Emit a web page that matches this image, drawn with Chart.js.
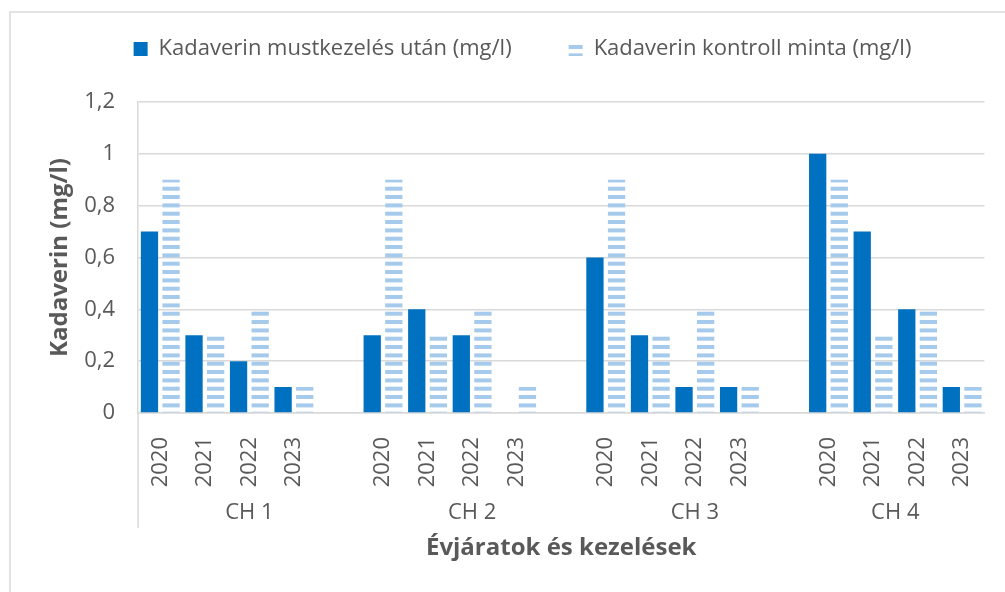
<!DOCTYPE html>
<html>
<head>
<meta charset="utf-8">
<title>Kadaverin</title>
<script src="https://cdn.jsdelivr.net/npm/chart.js@4.4.1/dist/chart.umd.min.js"></script>
<style>
  body { margin: 0; background: #fff; overflow: hidden; }
  #frame { position: absolute; left: 9px; top: 11px; width: 1100px; height: 700px; border: 2px solid #e3e3e3; }
  #wrap { position: absolute; left: 0; top: 0; width: 1005px; height: 592px; }
</style>
</head>
<body>
<div id="frame"></div>
<div id="wrap"><canvas id="myChart"></canvas></div>
<script>
'use strict';

var groups = ['CH 1', 'CH 2', 'CH 3', 'CH 4'];
var years = ['2020', '2021', '2022', '2023'];
// mg/l, one row per treatment, one value per year
var mustkezeles = [
  [0.7, 0.3, 0.2, 0.1],
  [0.3, 0.4, 0.3, 0],
  [0.6, 0.3, 0.1, 0.1],
  [1.0, 0.7, 0.4, 0.1]
];
var kontroll = [
  [0.9, 0.3, 0.4, 0.1],
  [0.9, 0.3, 0.4, 0.1],
  [0.9, 0.3, 0.4, 0.1],
  [0.9, 0.3, 0.4, 0.1]
];
var yTickLabels = ['0', '0,2', '0,4', '0,6', '0,8', '1', '1,2'];

var textColor = '#595959';
var gridColor = '#d9d9d9';
Chart.defaults.font.family = '"Open Sans", sans-serif';

// flatten the groups, with an empty slot between them
var labels = [];
var solid = [];
var striped = [];
var groupCenters = [];
var pos = 0;
groups.forEach(function (g, gi) {
  var n = years.length;
  years.forEach(function (y, yi) {
    labels.push(y);
    solid.push(mustkezeles[gi][yi]);
    striped.push(kontroll[gi][yi]);
  });
  if (gi < groups.length - 1) {
    labels.push('');
    solid.push(null);
    striped.push(null);
    n++;
  }
  groupCenters.push(pos + n / 2);
  pos += n;
});

// wide horizontal stripes
function stripes(color) {
  var c = document.createElement('canvas');
  c.width = 10;
  c.height = 25;
  var cx = c.getContext('2d');
  cx.fillStyle = color;
  [3.4, 11.7, 20.0].forEach(function (y) {
    cx.fillRect(0, y, 10, 4);
  });
  return cx.createPattern(c, 'repeat');
}

// more room between the legend and the plot
var legendSpace = {
  id: 'legendSpace',
  beforeInit: function (chart) {
    var fit = chart.legend.fit;
    chart.legend.fit = function () {
      fit.call(this);
      this.height += 32;
    };
  }
};

// left edge line running down through the category labels
var axisEdge = {
  id: 'axisEdge',
  afterDraw: function (chart) {
    var c = chart.ctx;
    var a = chart.chartArea;
    var x2 = chart.scales.x2;
    c.save();
    c.strokeStyle = gridColor;
    c.lineWidth = 1.5;
    c.beginPath();
    c.moveTo(a.left, a.bottom);
    c.lineTo(a.left, x2.top + 38);
    c.stroke();
    c.restore();
  }
};

var ctx = document.getElementById('myChart').getContext('2d');
var chart = new Chart(ctx, {
  type: 'bar',
  data: {
    labels: labels,
    datasets: [{
      label: 'Kadaverin mustkezelés után (mg/l)',
      data: solid,
      backgroundColor: '#0070c0'
    },
    {
      label: 'Kadaverin kontroll minta (mg/l)',
      data: striped,
      backgroundColor: stripes('#a6caec')
    }]
  },
  options: {
    responsive: true,
    maintainAspectRatio: false,
    animation: false,
    layout: { padding: { top: -19, left: 58, right: 18, bottom: 22 } },
    datasets: { bar: { categoryPercentage: 0.97, barPercentage: 0.8 } },
    plugins: {
      legend: {
        labels: { boxWidth: 14, boxHeight: 14, padding: 57, color: textColor, font: { size: 22 } }
      },
      tooltip: { enabled: false }
    },
    scales: {
      x: {
        ticks: { autoSkip: false, maxRotation: 90, minRotation: 90, padding: 16, color: textColor, font: { size: 22 } },
        grid: { display: false },
        border: { display: true, color: gridColor, width: 1.5 },
        afterFit: function (s) { s.height = 77; }
      },
      x2: {
        type: 'linear',
        position: 'bottom',
        weight: 1,
        offset: false,
        min: 0,
        max: labels.length,
        afterBuildTicks: function (s) {
          s.ticks = groupCenters.map(function (v) { return { value: v }; });
        },
        ticks: {
          autoSkip: false, maxRotation: 0, padding: 2, color: textColor, font: { size: 22 },
          callback: function (v, i) { return groups[i]; }
        },
        grid: { display: false },
        border: { display: false },
        title: {
          display: true, text: 'Évjáratok és kezelések', color: textColor,
          font: { size: 24, weight: 'bold' }, padding: { top: 0, bottom: 7 }
        },
        afterFit: function (s) { s.height = 80; }
      },
      y: {
        min: 0,
        max: 1.2,
        ticks: {
          stepSize: 0.2, padding: 23, color: textColor, font: { size: 22 },
          callback: function (v, i) { return yTickLabels[i]; }
        },
        grid: { color: gridColor, lineWidth: 1.5, drawTicks: false },
        border: { display: true, color: gridColor, width: 1.5 },
        title: {
          display: true, text: 'Kadaverin (mg/l)', color: textColor,
          font: { size: 24, weight: 'bold' }, padding: { top: -12, bottom: 0 }
        },
        afterFit: function (s) { s.width = 80; }
      }
    }
  },
  plugins: [legendSpace, axisEdge]
});
</script>
</body>
</html>
